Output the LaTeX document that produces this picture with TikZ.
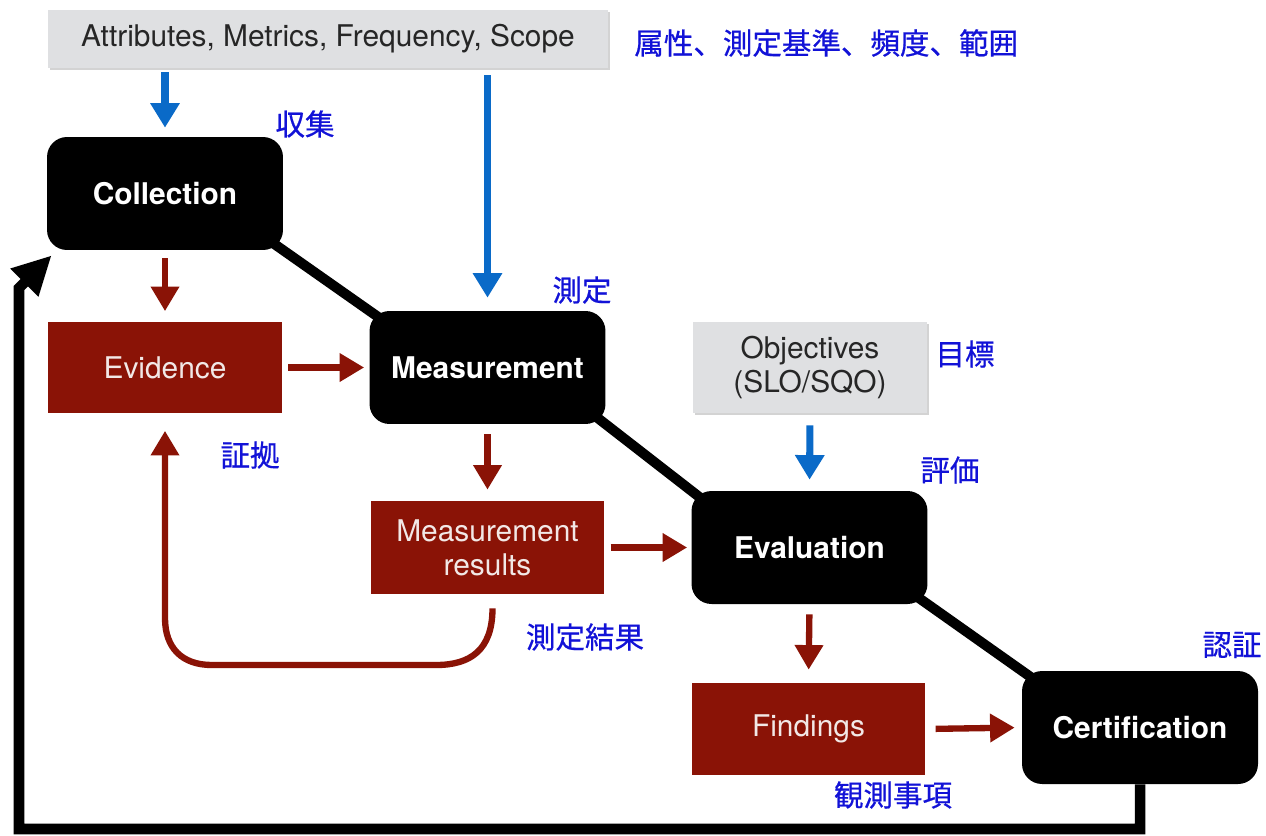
\documentclass[tikz,border=0pt]{standalone}
\usepackage{fontspec}
\setmainfont{TeX Gyre Heros}
\newfontfamily\jpfont[FakeBold=0.6]{Noto Sans CJK JP}
\usetikzlibrary{arrows.meta,shadows,backgrounds,calc}

\definecolor{boxred}{RGB}{138,19,6}
\definecolor{boxgray}{RGB}{223,224,226}
\definecolor{arrowblue}{RGB}{10,106,200}
\definecolor{jpblue}{RGB}{18,18,215}
\definecolor{paletext}{RGB}{242,232,230}
\definecolor{darktext}{RGB}{38,38,38}

\begin{document}
\begin{tikzpicture}[x=0.02cm,y=-0.02cm,
  every node/.style={inner sep=0pt},
  stagebox/.style={fill=black, rounded corners=0.4cm, minimum width=4.72cm,
    minimum height=2.26cm, text=white, font=\fontsize{17}{20}\selectfont\bfseries},
  artifact/.style={fill=boxred, minimum width=4.67cm, minimum height=1.84cm,
    text=paletext, align=center, font=\fontsize{17}{19.3}\selectfont},
  inputbox/.style={fill=boxgray, drop shadow={shadow xshift=1.2pt, shadow yshift=-1.2pt, opacity=0.35},
    text=darktext, align=center, font=\fontsize{17}{19.3}\selectfont},
  jlabel/.style={text=jpblue, font=\jpfont\fontsize{16.8}{18}\selectfont},
  flowline/.style={draw=black, line width=5.7pt},
  bluearrow/.style={draw=arrowblue, line width=4pt, -{Triangle[width=16pt,length=14pt]}},
  redarrow/.style={draw=boxred, line width=3.6pt, -{Triangle[width=15.5pt,length=14pt]}},
  returnarrow/.style={draw=black, line width=6pt, -{Triangle[width=21pt,length=22pt]}}
]
\useasboundingbox (0,0) rectangle (1266,835);

% input boxes
\node[inputbox, minimum width=11.2cm, minimum height=1.16cm] (top) at (328,39)
  {\raisebox{-1pt}{Attributes, Metrics, Frequency, Scope}};
\node[inputbox, minimum width=4.68cm, minimum height=1.82cm] (obj) at (810,367.5)
  {Objectives\\(SLO/SQO)};

% process stages
\node[stagebox] (coll) at (165,193.5) {Collection};
\node[stagebox] (meas) at (487.5,367.5) {Measurement};
\node[stagebox] (eval) at (809.5,547.5) {Evaluation};
\node[stagebox] (cert) at (1140,727.5) {Certification};

% artifacts
\node[artifact] (evid) at (165,367.5) {Evidence};
\node[artifact, minimum height=1.86cm] (mres) at (487.5,547.5) {Measurement\\results};
\node[artifact] (find) at (808.5,729) {Findings};

% stage-to-stage links
\begin{scope}[on background layer]
  \draw[flowline, shorten <=-0.3cm, shorten >=-0.3cm] (coll.south east) -- (meas.north west);
  \draw[flowline, shorten <=-0.3cm, shorten >=-0.3cm] (meas.south east) -- (eval.north west);
  \draw[flowline, shorten <=-0.3cm, shorten >=-0.3cm] (eval.south east) -- (cert.north west);
\end{scope}

% inputs
\draw[bluearrow, shorten <=0.08cm, shorten >=0.18cm] (top.south -| coll.north) -- (coll.north);
\draw[bluearrow, shorten <=0.14cm, shorten >=0.26cm] (top.south -| meas.north) -- (meas.north);
\draw[bluearrow, shorten <=0.24cm, shorten >=0.22cm] (obj.south) -- (eval.north);

% artifact flow
\draw[redarrow, shorten <=0.16cm, shorten >=0.2cm] (coll.south) -- (evid.north);
\draw[redarrow, shorten <=0.12cm, shorten >=0.1cm] (evid.east) -- (meas.west);
\draw[redarrow, shorten <=0.2cm, shorten >=0.22cm] (meas.south) -- (mres.north);
\draw[redarrow, shorten <=0.12cm, shorten >=0.08cm] (mres.east) -- (eval.west);
\draw[redarrow, shorten <=0.2cm, shorten >=0.26cm] (eval.south) -- (find.north);
\draw[redarrow, shorten <=0.2cm, shorten >=0.14cm] (find.east) -- (cert.west);

% measurement results feed back to evidence
\coordinate (loopstart) at ($(mres.south)+(5,14)$);
\coordinate (loopend) at ($(evid.south)+(0,17)$);
\draw[redarrow] (loopstart) .. controls +(0,42) and +(34,0) .. (436,665)
  -- (212,665) .. controls (182,665) and (165,648) .. (165,618) -- (loopend);

% certification returns to collection
\coordinate (retbl) at (19,829);
\coordinate (retup) at (19,288);
\coordinate (rettip) at ($(coll.south west)+(5,5)$);
\draw[returnarrow] (cert.south) |- (retbl) -- (retup) -- (rettip);

% Japanese labels
\node[jlabel, anchor=west] (ltop) at (634,43) {属性、測定基準、頻度、範囲};
\node[jlabel] (lcoll) at (305,124) {収集};
\node[jlabel] (lmeas) at (582,290) {測定};
\node[jlabel] (levid) at (250,455) {証拠};
\node[jlabel] (lobj) at (965,354) {目標};
\node[jlabel] (leval) at (950,470) {評価};
\node[jlabel] (lmres) at (585,637) {測定結果};
\node[jlabel] (lfind) at (893,795) {観測事項};
\node[jlabel] (lcert) at (1232,645) {認証};
\end{tikzpicture}
\end{document}
